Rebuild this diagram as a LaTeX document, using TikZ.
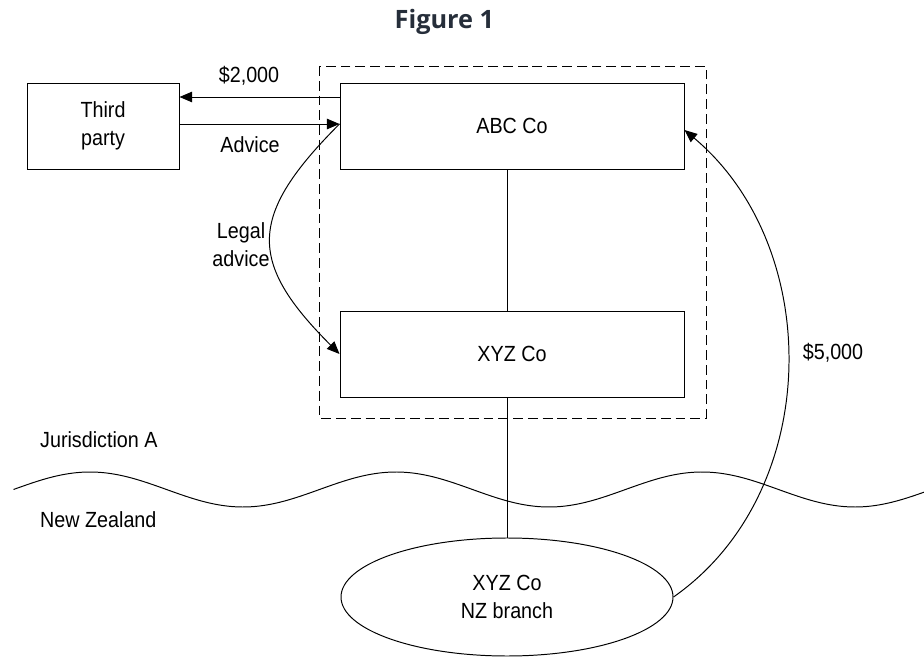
\documentclass[tikz,border=0pt]{standalone}
\usepackage{fontspec}
\setmainfont{Liberation Sans}[FakeStretch=0.9]
\newfontfamily\titlefont{Open Sans}
\usetikzlibrary{arrows.meta,shapes.geometric}
\definecolor{titlecol}{RGB}{38,46,58}
\tikzset{
  kassi/.style={draw, minimum width=8.6cm, minimum height=2.15cm, inner sep=0pt, align=center},
  pil/.style={-{Triangle[length=9pt,width=7.5pt]}}
}

\begin{document}
\begin{tikzpicture}[line width=0.7pt, font=\fontsize{15.6}{19.9}\selectfont]
  \useasboundingbox (0,0) rectangle (23.1,16.425);
  % titill
  \node (t) at (11.11,15.875) {\titlefont\fontsize{18}{22}\selectfont\bfseries\color{titlecol}Figure 1};
  % rammi
  \draw [dashed, dash pattern=on 7pt off 3.5pt] (7.975,14.775) rectangle (17.65,5.975);
  % kassar
  \node [kassi] (abc) at (12.8,13.275) {ABC Co};
  \node [kassi] (xyz) at (12.8,7.575) {XYZ Co};
  \node [kassi, minimum width=3.8cm] (tp) at (2.575,13.275) {Third\\party};
  \node [draw, ellipse, minimum width=8.3cm, minimum height=2.95cm, inner sep=0pt, align=center] (nz) at (12.675,1.5) {XYZ Co\\NZ branch};

  % línur
  \draw (nz.north |- abc.south) -- (nz.north |- xyz.north);
  \draw (nz.north |- xyz.south) -- (nz.north);

  % greiðslur og ráðgjöf
  \draw [pil] (abc.west |- 0,14) -- (tp.east |- 0,14);
  \draw [pil] (tp.east |- 0,13.325) -- (abc.west |- 0,13.325);
  \draw [pil] (abc.west |- 0,13.325) to [out=-135, in=135, looseness=1.45] (xyz.west);
  \draw [pil] (nz.east) to [out=35, in=-40] ([yshift=-0.1cm]abc.east);
  \node (a) at (6.225,14.525) {\$2,000};
  \node (b) at (6.25,12.8) {Advice};
  \node [align=center] (c) at (6.025,10.3) {Legal\\advice};
  \node (d) at (20.825,7.6) {\$5,000};

  % landamæri
  \draw plot [domain=0.3375:23.1, samples=160, smooth] (\x, {4.1875+0.4375*sin(360*(\x-0.3375)/7.65)});
  \node [anchor=west] (j) at (0.875,5.425) {Jurisdiction A};
  \node [anchor=west] (n) at (0.875,3.425) {New Zealand};
\end{tikzpicture}
\end{document}
